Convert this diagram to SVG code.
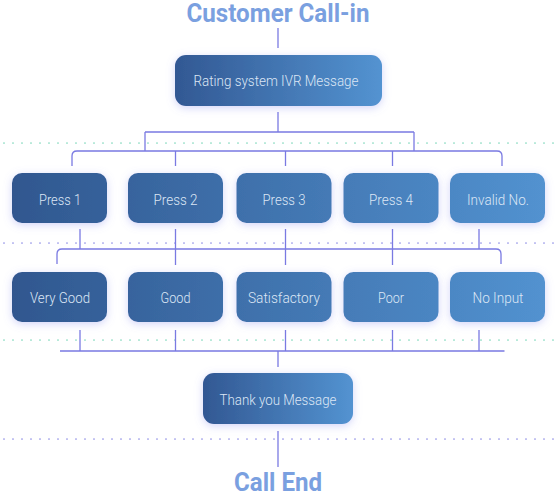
<svg xmlns="http://www.w3.org/2000/svg" width="560" height="500" viewBox="0 0 560 500">
<defs>
<style>
.title{font-family:Roboto,"Liberation Sans",sans-serif;font-weight:bold;font-size:25px;fill:#7aa0e0;text-anchor:middle}
.lbl{font-family:Roboto,"Liberation Sans",sans-serif;font-weight:300;font-size:14.5px;fill:#dce6f5;text-anchor:middle}
.box{filter:url(#glow)}
.row{fill:url(#rowGrad)}
.single{fill:url(#boxGrad)}
.conn{fill:none;stroke:#7a7ae2;stroke-width:1.3}
.dotG{stroke:#7fd8bc;stroke-width:1.7;stroke-dasharray:0 9;stroke-linecap:round}
.dotP{stroke:#9090e6;stroke-width:1.7;stroke-dasharray:0 9;stroke-linecap:round}
</style>
<linearGradient id="rowGrad" gradientUnits="userSpaceOnUse" x1="12" y1="0" x2="546" y2="0">
<stop offset="0" stop-color="#30578f"/>
<stop offset="1" stop-color="#5292d0"/>
</linearGradient>
<linearGradient id="boxGrad" x1="0" y1="0" x2="1" y2="0">
<stop offset="0" stop-color="#325893"/>
<stop offset="1" stop-color="#5393d1"/>
</linearGradient>
<filter id="glow" x="-30%" y="-40%" width="160%" height="180%">
<feDropShadow dx="0" dy="2" stdDeviation="4" flood-color="#7f86ee" flood-opacity="0.35"/>
</filter>
</defs>
<rect width="560" height="500" fill="#ffffff"/>

<g id="dotted-lines">
<line class="dotG" x1="4" y1="143" x2="558" y2="143"/>
<line class="dotP" x1="4" y1="243" x2="558" y2="243"/>
<line class="dotG" x1="4" y1="340" x2="558" y2="340"/>
<line class="dotP" x1="4" y1="439" x2="558" y2="439"/>
</g>

<g id="connectors" class="conn">
<path d="M278 28V48"/>
<path d="M278 112V132M145 132H414M145 132V151M414 132V151"/>
<path d="M72 166V156Q72 151 77 151H497Q502 151 502 156V166"/>
<path d="M175.5 151V166M285.5 151V166M392.5 151V166"/>
<path d="M80 229V249M479 229V249"/>
<path d="M57 264V254Q57 249 62 249H496Q501 249 501 254V264"/>
<path d="M175.5 229V265M285.5 229V265M392.5 229V265"/>
<path d="M80 330V351M175.5 330V351M285.5 330V351M392.5 330V351M479 330V351"/>
<path d="M60 351H504.5M278 351V367"/>
<path d="M278 431V467"/>
</g>

<g id="start"><text class="title" x="278" y="21.5" textLength="183" lengthAdjust="spacingAndGlyphs">Customer Call-in</text></g>

<g id="ivr-message"><rect class="box single" x="175" y="55" width="207" height="51" rx="11"/><text class="lbl" x="276" y="86" textLength="165" lengthAdjust="spacingAndGlyphs">Rating system IVR Message</text></g>

<g id="press1"><rect class="box row" x="12" y="173" width="95" height="50" rx="10"/><text class="lbl" x="60" y="204.5" textLength="42" lengthAdjust="spacingAndGlyphs">Press 1</text></g>
<g id="press2"><rect class="box row" x="128" y="173" width="95" height="50" rx="10"/><text class="lbl" x="175.5" y="204.5" textLength="44" lengthAdjust="spacingAndGlyphs">Press 2</text></g>
<g id="press3"><rect class="box row" x="236.5" y="173" width="95" height="50" rx="10"/><text class="lbl" x="284" y="204.5" textLength="43" lengthAdjust="spacingAndGlyphs">Press 3</text></g>
<g id="press4"><rect class="box row" x="343.5" y="173" width="95" height="50" rx="10"/><text class="lbl" x="391" y="204.5" textLength="44" lengthAdjust="spacingAndGlyphs">Press 4</text></g>
<g id="invalid"><rect class="box row" x="450" y="173" width="95" height="50" rx="10"/><text class="lbl" x="498" y="204.5" textLength="62" lengthAdjust="spacingAndGlyphs">Invalid No.</text></g>

<g id="very-good"><rect class="box row" x="12" y="272" width="95" height="50" rx="10"/><text class="lbl" x="60" y="302.5" textLength="60" lengthAdjust="spacingAndGlyphs">Very Good</text></g>
<g id="good"><rect class="box row" x="128" y="272" width="95" height="50" rx="10"/><text class="lbl" x="175.5" y="302.5" textLength="30" lengthAdjust="spacingAndGlyphs">Good</text></g>
<g id="satisfactory"><rect class="box row" x="236.5" y="272" width="95" height="50" rx="10"/><text class="lbl" x="284" y="302.5" textLength="72" lengthAdjust="spacingAndGlyphs">Satisfactory</text></g>
<g id="poor"><rect class="box row" x="343.5" y="272" width="95" height="50" rx="10"/><text class="lbl" x="391" y="302.5" textLength="26" lengthAdjust="spacingAndGlyphs">Poor</text></g>
<g id="no-input"><rect class="box row" x="450" y="272" width="95" height="50" rx="10"/><text class="lbl" x="498" y="302.5" textLength="51" lengthAdjust="spacingAndGlyphs">No Input</text></g>

<g id="thank-you"><rect class="box single" x="203" y="373" width="150" height="51" rx="11"/><text class="lbl" x="278" y="404.5" textLength="117" lengthAdjust="spacingAndGlyphs">Thank you Message</text></g>

<g id="end"><text class="title" x="278" y="491" textLength="88" lengthAdjust="spacingAndGlyphs">Call End</text></g>
</svg>
